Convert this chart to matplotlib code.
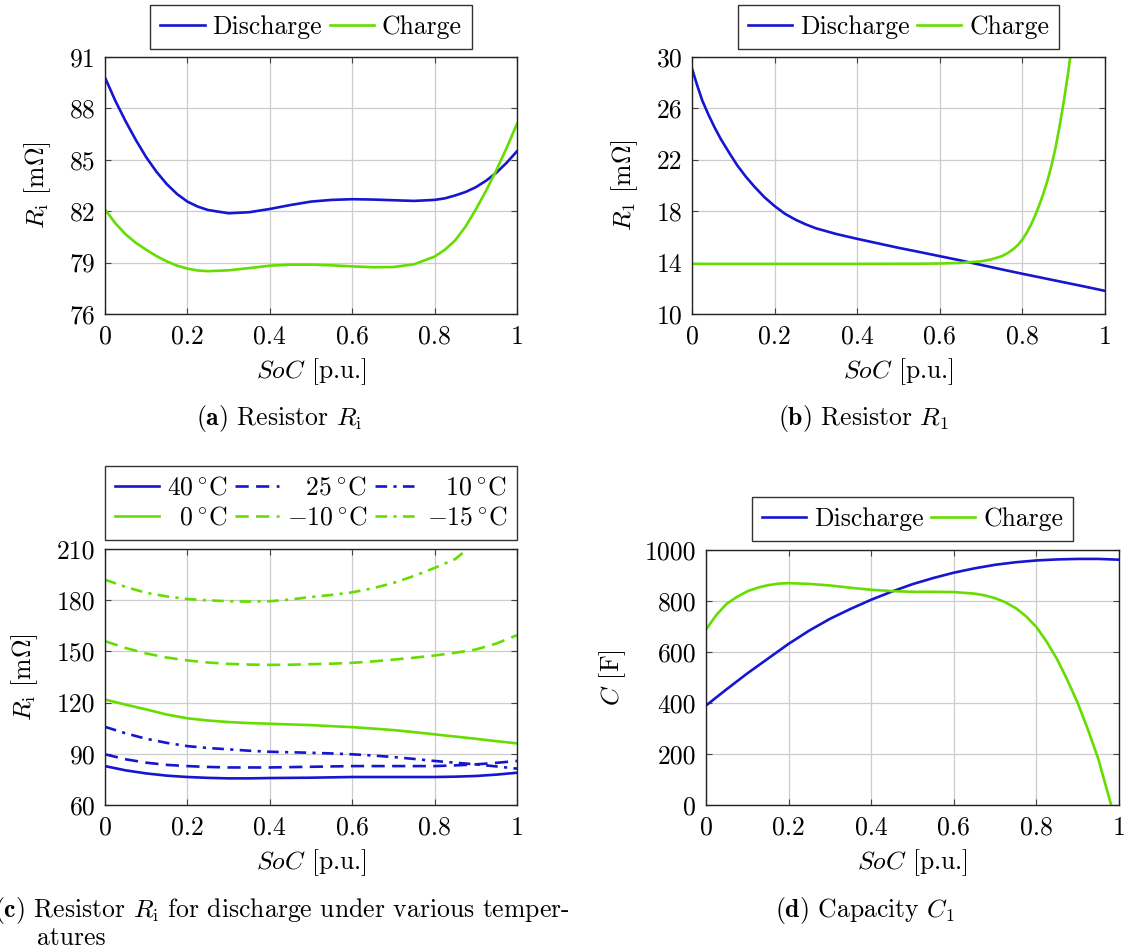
import matplotlib
matplotlib.use('Agg')
import matplotlib.pyplot as plt

plt.rcParams['font.family'] = 'serif'
plt.rcParams['font.serif'] = ['cmr10', 'DejaVu Serif']
plt.rcParams['mathtext.fontset'] = 'cm'
plt.rcParams['axes.unicode_minus'] = False
plt.rcParams['font.size'] = 18.5

BLUE = '#1616d0'
GREEN = '#66dd00'

# (a) resistor Ri, discharge / charge
soc_a = [0, 0.025, 0.05, 0.075, 0.1, 0.125, 0.15, 0.175, 0.2, 0.225, 0.25, 0.3, 0.35,
         0.4, 0.45, 0.5, 0.55, 0.6, 0.65, 0.7, 0.75, 0.8, 0.825, 0.85, 0.875, 0.9,
         0.925, 0.95, 0.975, 1.0]
ri_dis = [89.8, 88.45, 87.25, 86.15, 85.15, 84.3, 83.58, 83.0, 82.56, 82.27, 82.07, 81.88, 81.94,
          82.13, 82.36, 82.56, 82.66, 82.7, 82.68, 82.64, 82.6, 82.66, 82.75, 82.92, 83.12, 83.4,
          83.78, 84.25, 84.83, 85.5]
ri_chg = [82.1, 81.3, 80.65, 80.15, 79.75, 79.38, 79.07, 78.82, 78.65, 78.54, 78.5, 78.55, 78.68,
          78.82, 78.88, 78.88, 78.84, 78.78, 78.73, 78.74, 78.9, 79.35, 79.75, 80.3, 81.1, 82.1,
          83.2, 84.4, 85.7, 87.1]

# (b) resistor R1
soc_b_dis = [0, 0.0125, 0.025, 0.04, 0.055, 0.07, 0.09, 0.11, 0.13, 0.15, 0.175, 0.2,
             0.225, 0.25, 0.275, 0.3, 0.35, 0.4, 0.45, 0.5, 0.55, 0.6, 0.65, 0.7, 0.75,
             0.8, 0.85, 0.9, 0.95, 1.0]
r1_dis = [29.1, 27.8, 26.6, 25.5, 24.5, 23.6, 22.55, 21.55, 20.7, 19.95, 19.1, 18.4,
          17.8, 17.35, 16.98, 16.67, 16.22, 15.85, 15.5, 15.15, 14.83, 14.5, 14.17, 13.82, 13.47,
          13.13, 12.8, 12.47, 12.14, 11.8]
soc_b_chg = [0, 0.2, 0.4, 0.55, 0.6, 0.65, 0.7, 0.725, 0.75, 0.765, 0.78, 0.79, 0.8,
             0.81, 0.82, 0.83, 0.84, 0.85, 0.86, 0.87, 0.88, 0.89, 0.9, 0.91, 0.92]
r1_chg = [13.9, 13.9, 13.9, 13.91, 13.93, 13.98, 14.1, 14.25, 14.5, 14.75, 15.1, 15.4, 15.8,
          16.3, 16.9, 17.6, 18.4, 19.3, 20.3, 21.5, 22.9, 24.6, 26.5, 28.6, 31.0]

# (c) Ri for discharge at various temperatures
soc_c = [0, 0.05, 0.1, 0.15, 0.2, 0.25, 0.3, 0.35, 0.4, 0.45, 0.5,
         0.55, 0.6, 0.65, 0.7, 0.75, 0.8, 0.85, 0.9, 0.95, 1.0]
ri_40 = [82.8, 80.3, 78.5, 77.2, 76.4, 75.9, 75.6, 75.6, 75.8, 75.9, 76.0,
         76.2, 76.4, 76.4, 76.4, 76.4, 76.4, 76.6, 77.0, 77.8, 78.9]
ri_25 = [89.7, 86.8, 84.8, 83.5, 82.8, 82.3, 82.0, 82.0, 82.0, 82.2, 82.4,
         82.6, 82.8, 82.8, 82.8, 82.8, 82.8, 83.2, 83.8, 84.7, 85.8]
ri_10 = [105.8, 102.0, 98.8, 96.4, 94.5, 93.4, 92.6, 91.8, 91.2, 90.9, 90.6,
         90.2, 89.7, 89.0, 88.1, 87.0, 85.8, 84.8, 83.8, 82.6, 81.3]
ri_0 = [121.8, 118.8, 116.0, 113.0, 110.8, 109.5, 108.6, 108.0, 107.6, 107.2, 106.8,
        106.2, 105.6, 104.8, 103.9, 102.7, 101.4, 100.1, 98.8, 97.4, 96.1]
ri_m10 = [156.0, 152.0, 148.8, 146.4, 144.7, 143.5, 142.7, 142.3, 142.1, 142.2, 142.5,
          142.8, 143.3, 144.1, 145.2, 146.3, 147.6, 149.2, 151.1, 154.6, 159.5]
soc_c15 = [0, 0.05, 0.1, 0.15, 0.2, 0.25, 0.3, 0.35, 0.4, 0.45, 0.5,
           0.55, 0.6, 0.65, 0.7, 0.75, 0.8, 0.85, 0.88, 0.9]
ri_m15 = [192.0, 187.8, 184.3, 182.2, 180.7, 179.9, 179.4, 179.2, 179.4, 180.4, 181.9,
          183.1, 184.6, 187.0, 190.1, 194.2, 198.9, 204.1, 210.0, 213.5]

# (d) capacity C1
soc_d = [0, 0.05, 0.1, 0.15, 0.2, 0.25, 0.3, 0.35, 0.4, 0.45, 0.5, 0.55,
         0.6, 0.65, 0.7, 0.75, 0.8, 0.85, 0.9, 0.95, 1.0]
c_dis = [390, 454, 516, 574, 632, 684, 730, 769, 805, 837, 866, 890,
         911, 928, 942, 952, 959, 963, 965, 965, 962]
soc_d_chg = [0, 0.025, 0.05, 0.075, 0.1, 0.125, 0.15, 0.175, 0.2, 0.25, 0.3, 0.35,
             0.4, 0.45, 0.5, 0.55, 0.6, 0.65, 0.675, 0.7, 0.725, 0.75, 0.775, 0.8,
             0.825, 0.85, 0.875, 0.9, 0.925, 0.95, 0.975, 1.0]
c_chg = [688, 745, 789, 816, 838, 852, 862, 868, 870, 867, 861, 852,
         844, 839, 836, 836, 835, 829, 822, 811, 795, 772, 740, 698,
         640, 572, 490, 400, 295, 180, 35, -110]

xticks = [0, 0.2, 0.4, 0.6, 0.8, 1.0]
xticklabels = ['0', '0.2', '0.4', '0.6', '0.8', '1']

W, H = 1128, 950
fig = plt.figure(figsize=(W / 100, H / 100), dpi=100)


def make_ax(x0, y0, x1, y1):
    return fig.add_axes([x0 / W, 1 - y1 / H, (x1 - x0) / W, (y1 - y0) / H])


def style(ax, yticks, ylabel):
    ax.set_xlim(0, 1)
    ax.set_ylim(yticks[0], yticks[-1])
    ax.set_xticks(xticks)
    ax.set_xticklabels(xticklabels)
    ax.set_yticks(yticks)
    ax.set_yticklabels([str(v) for v in yticks])
    ax.grid(True, color='#cccccc', lw=0.9)
    ax.set_axisbelow(True)
    ax.tick_params(direction='in', length=4, width=0.8, top=True, right=True,
                   color='#444444')
    ax.tick_params(axis='x', pad=8)
    ax.tick_params(axis='y', pad=7)
    for s in ax.spines.values():
        s.set_linewidth(1.0)
        s.set_color('#222222')
    ax.set_xlabel('$SoC$ [p.u.]', labelpad=5)
    ax.set_ylabel(ylabel, labelpad=12)


def legend(ax, handles, labels, ncol, y):
    lg = ax.legend(handles, labels, loc='lower center', bbox_to_anchor=(0.5, y),
                   ncol=ncol, frameon=True, fancybox=False, edgecolor='black',
                   handlelength=1.72, handletextpad=0.3, columnspacing=0.3,
                   borderpad=0.4, labelspacing=0.25, borderaxespad=0)
    lg.get_frame().set_linewidth(1.0)


lw = 1.9

ax = make_ax(105, 57, 517, 314)
ax.plot(soc_a, ri_dis, color=BLUE, lw=lw, label='Discharge')
ax.plot(soc_a, ri_chg, color=GREEN, lw=lw, label='Charge')
style(ax, [76, 79, 82, 85, 88, 91], r'$R_\mathrm{i}$ [m$\Omega$]')
legend(ax, *ax.get_legend_handles_labels(), 2, 1.031)

ax = make_ax(692, 57, 1105, 314)
ax.plot(soc_b_dis, r1_dis, color=BLUE, lw=lw, label='Discharge')
ax.plot(soc_b_chg, r1_chg, color=GREEN, lw=lw, label='Charge')
style(ax, [10, 14, 18, 22, 26, 30], r'$R_1$ [m$\Omega$]')
legend(ax, *ax.get_legend_handles_labels(), 2, 1.031)

dash = (0, (5, 2.8))
dashdot = (0, (4.4, 2.4, 1.2, 2.4))
ax = make_ax(105, 549, 517, 805)
ax.plot(soc_c, ri_40, color=BLUE, lw=lw, label=r'$40\,^{\circ}\mathrm{C}$')
ax.plot(soc_c, ri_25, color=BLUE, lw=lw, ls=dash,
        label=r'$\hspace{0.84}25\,^{\circ}\mathrm{C}$')
ax.plot(soc_c, ri_10, color=BLUE, lw=lw, ls=dashdot,
        label=r'$\hspace{0.84}10\,^{\circ}\mathrm{C}$')
ax.plot(soc_c, ri_0, color=GREEN, lw=lw,
        label=r'$\hspace{0.57}0\,^{\circ}\mathrm{C}$')
ax.plot(soc_c, ri_m10, color=GREEN, lw=lw, ls=dash, label=r'$-10\,^{\circ}\mathrm{C}$')
ax.plot(soc_c15, ri_m15, color=GREEN, lw=lw, ls=dashdot, label=r'$-15\,^{\circ}\mathrm{C}$')
style(ax, [60, 90, 120, 150, 180, 210], r'$R_\mathrm{i}$ [m$\Omega$]')
# pgfplots fills legend rows first, matplotlib fills columns first
h, l = ax.get_legend_handles_labels()
order = [0, 3, 1, 4, 2, 5]
legend(ax, [h[i] for i in order], [l[i] for i in order], 3, 1.035)

ax = make_ax(706, 550, 1119, 805)
ax.plot(soc_d, c_dis, color=BLUE, lw=lw, label='Discharge')
ax.plot(soc_d_chg, c_chg, color=GREEN, lw=lw, label='Charge')
style(ax, [0, 200, 400, 600, 800, 1000], r'$C$ [F]')
legend(ax, *ax.get_legend_handles_labels(), 2, 1.035)

fig.text(279 / W, 1 - 418 / H, r'$\mathbf{(a)}$ Resistor $R_\mathrm{i}$',
         ha='center', va='center')
fig.text(863 / W, 1 - 418 / H, r'$\mathbf{(b)}$ Resistor $R_1$',
         ha='center', va='center')
fig.text(-6 / W, 1 - 910 / H,
         r'$\mathbf{(c)}$ Resistor $R_\mathrm{i}$ for discharge under various temper-',
         ha='left', va='center')
fig.text(37 / W, 1 - 938 / H, 'atures', ha='left', va='center')
fig.text(865 / W, 1 - 910 / H, r'$\mathbf{(d)}$ Capacity $C_1$',
         ha='center', va='center')

fig.savefig('out.png', dpi=100)
